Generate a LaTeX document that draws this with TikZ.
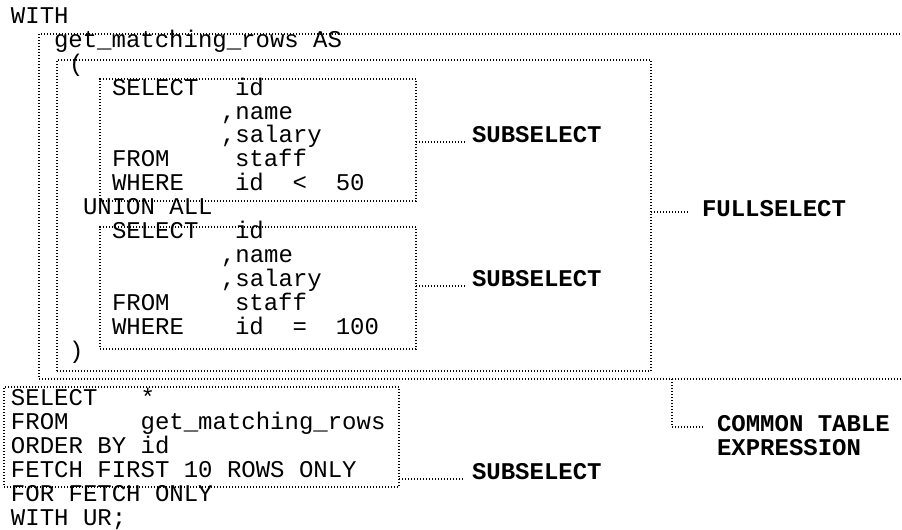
\documentclass[tikz,border=0pt]{standalone}
\usepackage{fontspec}
\newfontfamily\sqlfont{Liberation Mono}
\usetikzlibrary{calc,fit}

\begin{document}
\begin{tikzpicture}[x=0.75pt,y=-0.75pt,
	sql/.style={anchor=base west,inner sep=0pt,outer sep=0pt,font=\sqlfont\fontsize{18}{18}\selectfont},
	tag/.style={sql,font=\sqlfont\bfseries\fontsize{18}{18}\selectfont},
	dotrule/.style={line width=1.4pt,dash pattern=on 1pt off 1.25pt},
	sqlbox/.style={dotrule,draw,inner sep=0pt,outer sep=0pt,fit={#1}}]
	\useasboundingbox (0,0) rectangle (902,529);
	\clip (0,0) rectangle (902,529);

	% boxes
	\node[sqlbox={(39,34) (915,379)}] (cte) {};
	\node[sqlbox={(57,60) (651,371)}] (full) {};
	\node[sqlbox={(100,79) (416,201)}] (sub1) {};
	\node[sqlbox={(100,227) (416,349)}] (sub2) {};
	\node[sqlbox={(4,387) (399,487)}] (sub3) {};

	\node[sql] (with) at (11,23) {WITH};
	\node[sql] (name) at (54,47) {get\_matching\_rows AS};
	\node[sql] (lpar) at (69,71) {(};

	\node[sql] (s1k1) at (112,95) {SELECT};
	\node[sql] (s1v1) at (235,95) {id};
	\node[sql] (s1v2) at (221,119) {,name};
	\node[sql] (s1v3) at (221,142) {,salary};
	\node[sql] (s1k4) at (112,166) {FROM};
	\node[sql] (s1v4) at (235,166) {staff};
	\node[sql] (s1k5) at (112,190) {WHERE};
	\node[sql] (s1v5) at (235,190) {id~~<~~50};

	\node[sql] (union) at (83,214) {UNION ALL};

	\node[sql] (s2k1) at (112,238) {SELECT};
	\node[sql] (s2v1) at (235,238) {id};
	\node[sql] (s2v2) at (221,262) {,name};
	\node[sql] (s2v3) at (221,286) {,salary};
	\node[sql] (s2k4) at (112,310) {FROM};
	\node[sql] (s2v4) at (235,310) {staff};
	\node[sql] (s2k5) at (112,334) {WHERE};
	\node[sql] (s2v5) at (235,334) {id~~=~~100};

	\node[sql] (rpar) at (69,358) {)};

	\node[sql] (s3k1) at (11,405) {SELECT};
	\node[sql] (s3v1) at (140.6,405) {*};
	\node[sql] (s3k2) at (11,429) {FROM};
	\node[sql] (s3v2) at (140.6,429) {get\_matching\_rows};
	\node[sql] (s3l3) at (11,453) {ORDER BY id};
	\node[sql] (s3l4) at (11,477) {FETCH FIRST 10 ROWS ONLY};
	\node[sql] (forf) at (11,501) {FOR FETCH ONLY};
	\node[sql] (wiur) at (11,525) {WITH UR;};

	% labels
	\node[tag] (lab1) at (472,142) {SUBSELECT};
	\node[tag] (lab2) at (472,286) {SUBSELECT};
	\node[tag] (lab3) at (472,479) {SUBSELECT};
	\node[tag] (fsl) at (702,216) {FULLSELECT};
	\node[tag] (ctea) at (717,431) {COMMON TABLE};
	\node[tag] (cteb) at (717,455) {EXPRESSION};

	\draw[dotrule] (sub1.east |- lab1.base) -- ([xshift=-3.75pt]lab1.base west);
	\draw[dotrule] (sub2.east |- lab2.base) -- ([xshift=-3.75pt]lab2.base west);
	\draw[dotrule] (sub3.east |- lab3.base) -- ([xshift=-5.25pt]lab3.base west);
	\draw[dotrule] ($(full.east |- fsl.base)+(0,-4)$) -- ($(fsl.base west)+(-12,-4)$);
	\draw[dotrule] ($(cte.south west)+(633,0)$) |- ($(ctea.base west)+(-12,-4)$);
\end{tikzpicture}
\end{document}
